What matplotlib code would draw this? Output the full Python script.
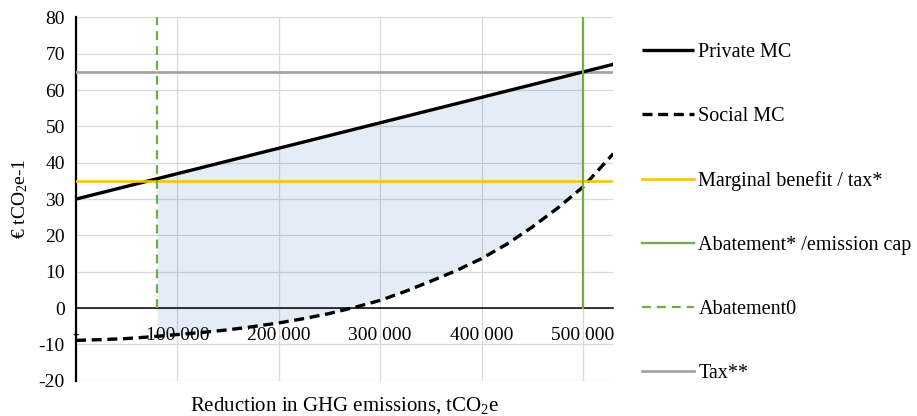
import numpy as np
from matplotlib import pyplot as plt

plt.rcParams['font.family'] = ['Liberation Serif', 'DejaVu Serif']
plt.rcParams['mathtext.fontset'] = 'custom'
plt.rcParams['mathtext.rm'] = 'Liberation Serif'
plt.rcParams['mathtext.it'] = 'Liberation Serif:italic'
plt.rcParams['axes.unicode_minus'] = False

# data
x_social = [0, 25000, 50000, 75000, 100000, 125000, 150000, 175000, 200000,
            225000, 250000, 275000, 300000, 325000, 350000, 375000, 400000,
            425000, 450000, 475000, 500000, 530000]
social_mc = [-8.9, -8.7, -8.4, -7.9, -7.3, -6.7, -6.0, -5.1, -4.1,
             -2.9, -1.5, 0.2, 2.1, 4.6, 7.4, 10.3, 13.6,
             17.6, 22.3, 27.5, 33.3, 42.5]
x_private = [0, 530000]
private_mc = [30, 67.1]
x_hline = [0, 530000]
benefit = [35, 35]
tax = [65, 65]
abate_star_x = [500000, 500000]
abate0_x = [80000, 80000]
abate_y = [0, 80]
xticks = [0, 100000, 200000, 300000, 400000, 500000]
xtick_labels = ['-', '100 000', '200 000', '300 000', '400 000', '500 000']
yticks = range(-20, 81, 10)

fig = plt.figure(figsize=(9.17, 4.16), dpi=100)
ax = fig.add_axes([0.0829, 0.0849, 0.5859, 0.8731])

# shaded area between the curves from abatement0 to abatement*
xf = np.linspace(abate0_x[0], abate_star_x[0], 200)
lo = np.interp(xf, x_social, social_mc)
hi = np.interp(xf, x_private, private_mc)
ax.fill_between(xf, lo, hi, color='#2F75B5', alpha=0.13, lw=0, zorder=1)

l1, = ax.plot(x_private, private_mc, color='black', lw=2.4, label='Private MC',
              solid_capstyle='butt', zorder=4)
l2, = ax.plot(x_social, social_mc, color='black', lw=2.4, dashes=(3, 1.7),
              label='Social MC', zorder=4)
l3, = ax.plot(x_hline, benefit, color='#FFC000', lw=1.8,
              label='Marginal benefit / tax*', zorder=5)
l4, = ax.plot(abate_star_x, abate_y, color='#70AD47', lw=1.6,
              label='Abatement* /emission cap', zorder=5)
l5, = ax.plot(abate0_x, abate_y, color='#70AD47', lw=1.6, dashes=(4, 2.7),
              label='Abatement0', zorder=5)
l6, = ax.plot(x_hline, tax, color='#A5A5A5', lw=2.0, label='Tax**', zorder=3)

ax.set_xlim(0, 530000)
ax.set_ylim(-20, 80)
ax.set_xticks(xticks)
ax.set_xticklabels(xtick_labels)
ax.set_yticks(list(yticks))
ax.tick_params(axis='x', length=0, pad=13.5, labelsize=14)
ax.tick_params(axis='y', length=0, pad=8, labelsize=14)
ax.grid(True, color='#d9d9d9', lw=0.9, zorder=0)
ax.set_axisbelow(True)

ax.spines['top'].set_visible(False)
ax.spines['right'].set_visible(False)
ax.spines['left'].set_linewidth(1.6)
ax.spines['bottom'].set_position(('data', 0))
ax.spines['bottom'].set_linewidth(1.1)
ax.spines['bottom'].set_zorder(3)

ax.set_ylabel('€ tCO$_2$e-1', fontsize=14)
ax.yaxis.set_label_coords(-0.085, 0.5)
fig.text(344.5 / 917, 1 - 406 / 416, 'Reduction in GHG emissions, tCO$_2$e',
         ha='center', va='center', fontsize=15)

fig.legend(handles=[l1, l2, l3, l4, l5, l6], loc='center left',
           bbox_to_anchor=(642 / 917, 1 - 213 / 416), frameon=False,
           fontsize=14.5, handlelength=2.6, handletextpad=0.2,
           labelspacing=2.24, borderpad=0, borderaxespad=0)

fig.savefig('out.png', dpi=100)
